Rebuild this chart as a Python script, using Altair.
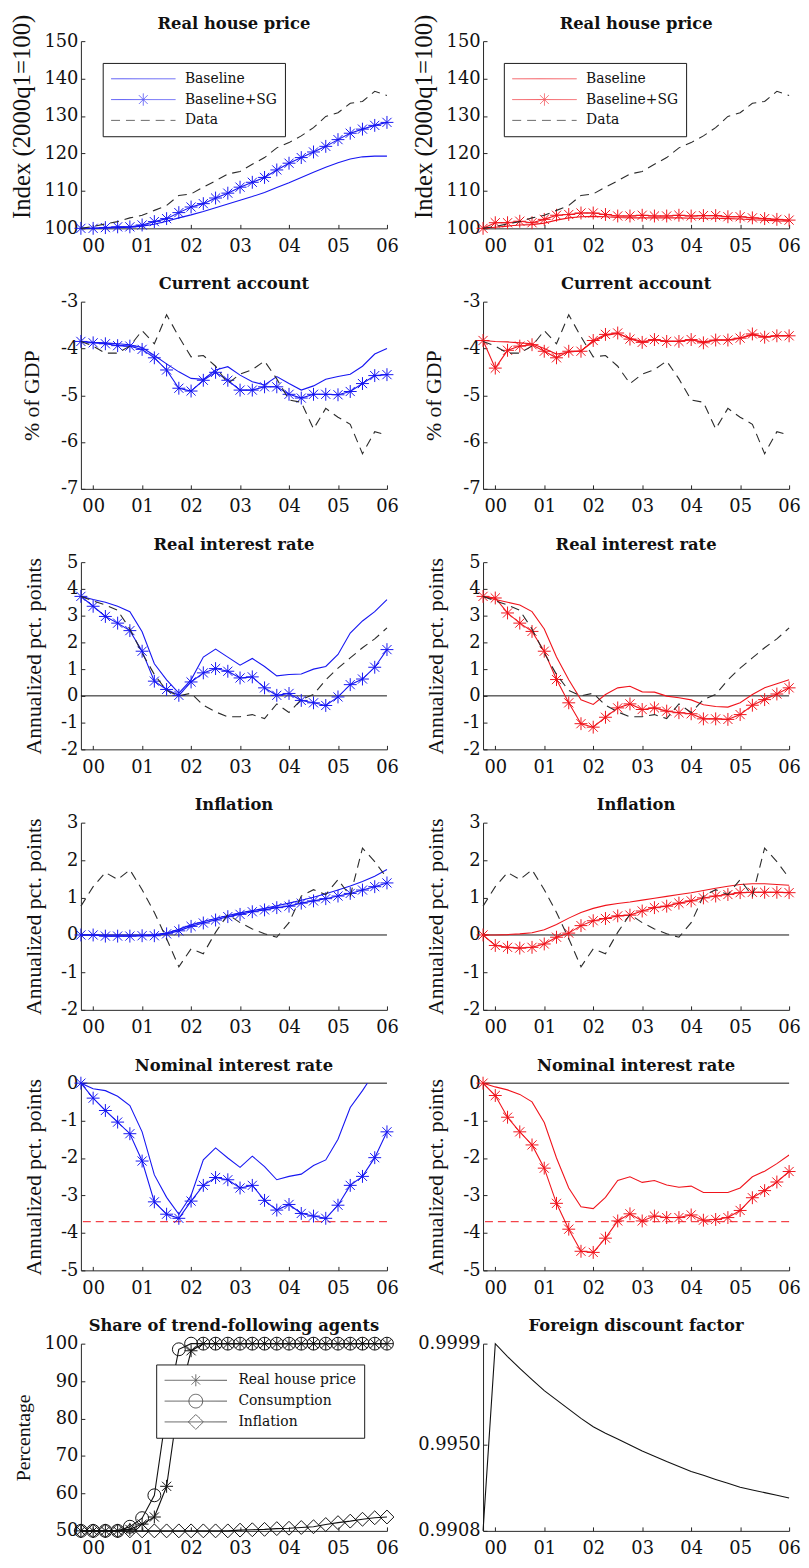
import altair as alt
import pandas as pd

# ---------------- data ----------------
quarter = list(range(26))                       # 1999q4 ... 2006q1
year_ticks = [1, 5, 9, 13, 17, 21, 25]
year_labels = ["00", "01", "02", "03", "04", "05", "06"]

# Real house price
house_base_l = [100, 100, 100.1, 100.2, 100.3, 100.6, 101.1, 101.9, 102.8, 103.6, 104.5, 105.5, 106.5,
                107.5, 108.5, 109.6, 110.9, 112.2, 113.6, 115.0, 116.3, 117.5, 118.5, 119.1, 119.3, 119.3]
house_sg_l = [100, 100, 100.2, 100.4, 100.4, 100.9, 101.8, 102.6, 104.2, 105.7, 106.6, 108.1, 109.4,
              111.0, 112.3, 113.6, 115.6, 117.4, 118.9, 120.4, 121.9, 123.7, 125.4, 126.5, 127.5, 128.3]
house_data = [100, 100.5, 101.2, 101.8, 102.8, 103.5, 104.8, 106.1, 108.8, 109.2, 111.0, 112.7, 114.5,
              115.2, 117.1, 118.9, 121.5, 122.9, 124.7, 126.9, 129.9, 130.9, 133.4, 133.9, 136.6, 135.5]
house_base_r = [100, 100.3, 100.6, 100.9, 101.0, 101.4, 102.2, 102.8, 103.1, 103.2, 103.1, 102.9, 102.8,
                102.8, 102.8, 102.8, 102.8, 102.7, 102.7, 102.7, 102.6, 102.5, 102.3, 102.2, 102.0, 101.9]
house_sg_r = [100, 101.5, 101.5, 101.9, 101.5, 102.4, 103.5, 103.7, 104.1, 104.1, 103.7, 103.3, 103.3,
              103.5, 103.3, 103.3, 103.5, 103.3, 103.4, 103.4, 103.1, 103.1, 102.8, 102.6, 102.4, 102.2]

# Current account
ca_base_l = [-3.85, -3.87, -3.88, -3.9, -3.92, -3.98, -4.15, -4.33, -4.5, -4.64, -4.66, -4.46, -4.39,
             -4.57, -4.71, -4.78, -4.6, -4.75, -4.89, -4.8, -4.66, -4.6, -4.55, -4.38, -4.12, -4.0]
ca_sg_l = [-3.85, -3.88, -3.9, -3.94, -3.95, -4.02, -4.2, -4.46, -4.85, -4.91, -4.68, -4.51, -4.68,
           -4.89, -4.89, -4.82, -4.82, -4.98, -5.06, -4.98, -4.98, -4.99, -4.92, -4.75, -4.58, -4.56]
ca_data = [-3.85, -3.95, -4.1, -4.1, -3.95, -3.62, -3.9, -3.28, -3.75, -4.18, -4.15, -4.38, -4.75,
           -4.55, -4.45, -4.27, -4.65, -5.1, -5.15, -5.72, -5.28, -5.47, -5.62, -6.25, -5.78, -5.85]
ca_base_r = [-3.83, -3.85, -3.86, -3.88, -3.9, -4.0, -4.12, -4.08, -4.05, -3.86, -3.72, -3.68, -3.78,
             -3.85, -3.82, -3.84, -3.84, -3.82, -3.86, -3.82, -3.82, -3.78, -3.71, -3.75, -3.73, -3.73]
ca_sg_r = [-3.83, -4.42, -4.04, -3.95, -3.92, -4.06, -4.2, -4.06, -4.06, -3.83, -3.7, -3.67, -3.8,
           -3.87, -3.81, -3.85, -3.85, -3.81, -3.88, -3.82, -3.82, -3.78, -3.69, -3.76, -3.73, -3.73]

# Real interest rate
rr_base_l = [3.72, 3.6, 3.5, 3.35, 3.15, 2.4, 1.2, 0.6, 0.1, 0.6, 1.45, 1.75, 1.45,
             1.15, 1.4, 1.1, 0.75, 0.8, 0.82, 1.0, 1.1, 1.55, 2.35, 2.8, 3.15, 3.6]
rr_sg_l = [3.72, 3.35, 2.97, 2.72, 2.44, 1.67, 0.55, 0.24, 0.02, 0.52, 0.86, 1.02, 0.92,
           0.67, 0.71, 0.3, 0.02, 0.09, -0.17, -0.26, -0.36, -0.04, 0.42, 0.63, 1.07, 1.73]
rr_data = [3.72, 3.55, 3.4, 3.2, 2.5, 1.6, 0.8, 0.2, 0.0, 0.1, -0.35, -0.6, -0.78,
           -0.78, -0.7, -0.85, -0.3, -0.62, -0.14, 0.05, 0.6, 1.04, 1.42, 1.8, 2.13, 2.54]
rr_base_r = [3.72, 3.6, 3.5, 3.4, 3.15, 2.5, 1.45, 0.6, -0.15, -0.32, 0.05, 0.3, 0.36,
             0.15, 0.14, -0.01, -0.07, -0.15, -0.33, -0.4, -0.42, -0.26, 0.05, 0.3, 0.45, 0.6]
rr_sg_r = [3.72, 3.66, 3.1, 2.72, 2.41, 1.67, 0.61, -0.26, -1.04, -1.17, -0.8, -0.45, -0.3,
           -0.51, -0.45, -0.57, -0.63, -0.67, -0.86, -0.86, -0.88, -0.7, -0.35, -0.14, 0.07, 0.3]

# Inflation
infl_base_l = [0, 0, 0, 0, 0, 0, 0.01, 0.05, 0.15, 0.27, 0.36, 0.44, 0.52,
               0.59, 0.65, 0.71, 0.78, 0.85, 0.93, 1.01, 1.1, 1.2, 1.31, 1.43, 1.57, 1.75]
infl_sg_l = [0, 0, -0.03, -0.03, -0.03, -0.02, -0.02, 0.03, 0.11, 0.23, 0.32, 0.4, 0.49,
             0.55, 0.62, 0.67, 0.73, 0.77, 0.85, 0.91, 0.97, 1.04, 1.11, 1.2, 1.29, 1.39]
infl_data = [0.77, 1.29, 1.67, 1.48, 1.74, 1.21, 0.6, -0.1, -0.85, -0.37, -0.5, 0.07, 0.55,
             0.33, 0.16, 0.03, -0.06, 0.33, 1.04, 1.21, 1.08, 1.48, 1.04, 2.32, 1.96, 1.52]
infl_base_r = [0, 0, 0.01, 0.03, 0.06, 0.14, 0.28, 0.45, 0.6, 0.71, 0.79, 0.84, 0.88,
               0.93, 0.98, 1.03, 1.08, 1.13, 1.19, 1.25, 1.3, 1.35, 1.37, 1.37, 1.35, 1.33]
infl_sg_r = [0, -0.28, -0.33, -0.35, -0.33, -0.24, -0.06, 0.05, 0.25, 0.38, 0.44, 0.51, 0.53,
             0.64, 0.73, 0.77, 0.85, 0.91, 0.99, 1.04, 1.08, 1.13, 1.14, 1.14, 1.14, 1.13]

# Nominal interest rate
nom_base_l = [0, -0.15, -0.2, -0.35, -0.6, -1.3, -2.45, -3.05, -3.5, -3.0, -2.05, -1.73, -2.0,
              -2.25, -1.95, -2.23, -2.58, -2.49, -2.43, -2.2, -2.05, -1.5, -0.65, -0.2, 0.3, 0.8]
nom_sg_l = [0, -0.4, -0.73, -1.04, -1.35, -2.08, -3.17, -3.5, -3.61, -3.15, -2.73, -2.52, -2.58,
            -2.8, -2.73, -3.13, -3.39, -3.24, -3.48, -3.55, -3.61, -3.26, -2.73, -2.49, -1.99, -1.3]
nom_base_r = [0, -0.1, -0.18, -0.3, -0.5, -1.05, -2.0, -2.8, -3.3, -3.35, -3.05, -2.6, -2.5,
              -2.65, -2.6, -2.72, -2.78, -2.75, -2.92, -2.92, -2.92, -2.8, -2.5, -2.35, -2.15, -1.92]
nom_sg_r = [0, -0.33, -0.91, -1.3, -1.65, -2.27, -3.21, -3.9, -4.49, -4.52, -4.14, -3.68, -3.49,
            -3.68, -3.55, -3.59, -3.59, -3.52, -3.66, -3.64, -3.59, -3.4, -3.06, -2.87, -2.64, -2.36]
zero_level = [0]
zlb_level = [-3.7]

# Share of trend-following agents
share_house = [50, 50, 50, 50, 50.4, 51.8, 53.7, 61.9, 85, 98.1, 100, 100, 100,
               100, 100, 100, 100, 100, 100, 100, 100, 100, 100, 100, 100, 100]
share_cons = [50, 50, 50, 50, 51.1, 53.4, 59.5, 82, 98.5, 100, 100, 100, 100,
              100, 100, 100, 100, 100, 100, 100, 100, 100, 100, 100, 100, 100]
share_infl = [50, 50, 50, 50, 50, 50, 50, 50, 50, 50, 50, 50, 50,
              50.2, 50.3, 50.4, 50.6, 50.7, 50.9, 51.1, 51.7, 52.2, 52.6, 53.1, 53.5, 53.7]

# Foreign discount factor
discount = [0.9908, 0.9999, 0.99927, 0.9987, 0.99815, 0.99762, 0.99717, 0.99672, 0.99627,
            0.99586, 0.99555, 0.99526, 0.99497, 0.99468, 0.99443, 0.99417, 0.99393, 0.99369,
            0.9935, 0.9933, 0.99311, 0.99292, 0.99279, 0.99266, 0.99253, 0.9924]

house_ticks = [100, 110, 120, 130, 140, 150]
ca_ticks = [-7, -6, -5, -4, -3]
rr_ticks = [-2, -1, 0, 1, 2, 3, 4, 5]
infl_ticks = [-2, -1, 0, 1, 2, 3]
nom_ticks = [-5, -4, -3, -2, -1, 0]
share_ticks = [50, 60, 70, 80, 90, 100]
disc_ticks = [0.9908, 0.9950, 0.9999]

# ---------------- style ----------------
FONT = "DejaVu Serif"
TFONT = "Liberation Serif"
BLUE = "#1616f2"
RED = "#f0141c"
DATA_C = "#2a2a2a"
INK = "#111111"
AXIS_C = "#262626"

STAR = "M-1,0H1M0,-1V1M-0.71,-0.71L0.71,0.71M-0.71,0.71L0.71,-0.71"
LEG_LINE = "M-1,0H1"
LEG_STAR = "M-1,0H1M0,-0.19V0.19M-0.135,-0.135L0.135,0.135M-0.135,0.135L0.135,-0.135"
LEG_CIRC = "M-1,0H1M0.22,0A0.22,0.22 0 1,1 -0.22,0A0.22,0.22 0 1,1 0.22,0"
LEG_DIAM = "M-1,0H1M0,-0.24L0.24,0L0,0.24L-0.24,0Z"
SOLID = [1, 0]
DASH = [9, 6]

W, H = 309, 189

x_expr = " : ".join(f"datum.value == {v} ? '{s}'" for v, s in zip(year_ticks, year_labels)) + " : ''"


def x_enc():
    return alt.X("t:Q", scale=alt.Scale(domain=[0, 25], nice=False, zero=False),
                 axis=alt.Axis(values=year_ticks, labelExpr=x_expr, title=None, grid=False,
                               labelFlush=False, labelOverlap=False, labelPadding=13,
                               tickSize={"expr": "-4"}))


def y_enc(dom, vals, ytitle, lab_expr):
    kw = dict(values=vals, labelExpr=lab_expr, grid=False, labelFlush=False, labelOverlap=False,
              labelPadding=7, tickSize={"expr": "-4"})
    if ytitle:
        kw.update(title=ytitle["text"], titleFontSize=ytitle["size"], titlePadding=ytitle["pad"])
        if "y" in ytitle:
            kw["titleY"] = ytitle["y"]
    else:
        kw["title"] = None
    return alt.Y("v:Q", scale=alt.Scale(domain=dom, nice=False, zero=False), axis=alt.Axis(**kw))


def series(name, values, color, dash=None, marker=None, msize=169, legpath=LEG_LINE):
    return dict(name=name, values=values, color=color, dash=dash, marker=marker,
                msize=msize, legpath=legpath)


def panel(title, sers, dom, vals, ytitle, lab_expr="'' + datum.value", legend_xy=None,
          refs=(), clip=False, toff=0):
    X = x_enc()
    Y = y_enc(dom, vals, ytitle, lab_expr)
    layers = []
    for lvl, col, dsh in refs:
        rdf = pd.DataFrame({"v": lvl})
        kw = dict(color=col, strokeWidth=1)
        if dsh:
            kw["strokeDash"] = dsh
        layers.append(alt.Chart(rdf).mark_rule(**kw).encode(y=Y))
    for s in sers:
        df = pd.DataFrame({"t": quarter, "v": s["values"]})
        kw = dict(color=s["color"], strokeWidth=1.1, clip=clip)
        if s["dash"]:
            kw["strokeDash"] = s["dash"]
        layers.append(alt.Chart(df).mark_line(**kw).encode(x=X, y=Y))
        if s["marker"]:
            layers.append(alt.Chart(df).mark_point(shape=s["marker"], size=s["msize"], filled=False,
                                                   color=s["color"], strokeWidth=1, opacity=1)
                          .encode(x=X, y=Y))
    if legend_xy:
        names = [s["name"] for s in sers]
        rows = []
        for s in sers:
            for q, v in zip(quarter, s["values"]):
                rows.append({"t": q, "v": v, "series": s["name"]})
        ldf = pd.DataFrame(rows)
        leg = alt.Legend(orient="none", legendX=legend_xy[0], legendY=legend_xy[1],
                         direction="vertical", fillColor="white", strokeColor="#1a1a1a",
                         padding=8, labelFont=FONT, labelFontSize=14, labelColor=INK,
                         symbolSize=legend_xy[2] ** 2, symbolStrokeWidth=1, clipHeight=16,
                         rowPadding=5, labelOffset=legend_xy[3], title=None, zindex=1)
        layers.append(
            alt.Chart(ldf).transform_filter("false").mark_point(filled=False, strokeWidth=1)
            .encode(
                x=X, y=Y,
                color=alt.Color("series:N", scale=alt.Scale(domain=names, range=[s["color"] for s in sers]),
                                legend=leg),
                shape=alt.Shape("series:N", scale=alt.Scale(domain=names, range=[s["legpath"] for s in sers]),
                                legend=leg),
                strokeDash=alt.StrokeDash("series:N",
                                          scale=alt.Scale(domain=names,
                                                          range=[s["dash"] or SOLID for s in sers]),
                                          legend=leg),
            ))
    return alt.layer(*layers).properties(
        width=W, height=H,
        title=alt.TitleParams(title, font=FONT, fontSize=16.5, fontWeight="bold", color=INK,
                              anchor="middle", offset=toff, frame="group"))


def three(base, sg, data, color):
    return [series("Baseline", base, color),
            series("Baseline+SG", sg, color, marker=STAR, legpath=LEG_STAR),
            series("Data", data, DATA_C, dash=DASH)]


T_INDEX = dict(text="Index (2000q1=100)", size=25, pad=10, y=76)
T_GDP = dict(text="% of GDP", size=22, pad=17)
T_ANN = dict(text="Annualized pct. points", size=22, pad=15)
T_PCT = dict(text="Percentage", size=20, pad=11)

panels = [
    panel("Real house price", three(house_base_l, house_sg_l, house_data, BLUE), [100, 150], house_ticks,
          T_INDEX, legend_xy=(22, 22, 65, 9), toff=-18),
    panel("Real house price", three(house_base_r, house_sg_r, house_data, RED), [100, 150], house_ticks,
          T_INDEX, legend_xy=(21, 22, 65, 9), toff=-18),
    panel("Current account", three(ca_base_l, ca_sg_l, ca_data, BLUE), [-7, -3], ca_ticks, T_GDP),
    panel("Current account", three(ca_base_r, ca_sg_r, ca_data, RED), [-7, -3], ca_ticks, T_GDP),
    panel("Real interest rate", three(rr_base_l, rr_sg_l, rr_data, BLUE), [-2, 5], rr_ticks,
          T_ANN, refs=[(zero_level, INK, None)]),
    panel("Real interest rate", three(rr_base_r, rr_sg_r, rr_data, RED), [-2, 5], rr_ticks,
          T_ANN, refs=[(zero_level, INK, None)]),
    panel("Inflation", three(infl_base_l, infl_sg_l, infl_data, BLUE), [-2, 3], infl_ticks,
          T_ANN, refs=[(zero_level, INK, None)]),
    panel("Inflation", three(infl_base_r, infl_sg_r, infl_data, RED), [-2, 3], infl_ticks,
          T_ANN, refs=[(zero_level, INK, None)]),
    panel("Nominal interest rate",
          [series("Baseline", nom_base_l, BLUE),
           series("Baseline+SG", nom_sg_l, BLUE, marker=STAR)],
          [-5, 0], nom_ticks, T_ANN,
          refs=[(zero_level, INK, None), (zlb_level, RED, [8, 5])], clip=True),
    panel("Nominal interest rate",
          [series("Baseline", nom_base_r, RED),
           series("Baseline+SG", nom_sg_r, RED, marker=STAR)],
          [-5, 0], nom_ticks, T_ANN,
          refs=[(zero_level, INK, None), (zlb_level, RED, [8, 5])], clip=True),
    panel("Share of trend-following agents",
          [series("Real house price", share_house, INK, marker=STAR, legpath=LEG_STAR),
           series("Consumption", share_cons, INK, marker="circle", msize=169, legpath=LEG_CIRC),
           series("Inflation", share_infl, INK, marker="diamond", msize=196, legpath=LEG_DIAM)],
          [50, 100], share_ticks, T_PCT, legend_xy=(76, 21, 63, 11)),
    panel("Foreign discount factor", [series("Discount", discount, INK)],
          [0.9908, 0.9999], disc_ticks, None, lab_expr="format(datum.value, '.4f')"),
]

chart = (
    alt.concat(*panels, columns=2, spacing={"row": 74, "column": 97}, bounds="flush")
    .resolve_scale(x="independent", y="independent", color="independent",
                   shape="independent", strokeDash="independent")
    .properties(padding={"left": 0.6, "top": -2, "right": 0, "bottom": 0})
    .configure(font=FONT)
    .configure_view(stroke=None)
    .configure_axis(domainColor=AXIS_C, tickColor=AXIS_C, domainWidth=1, tickWidth=1,
                    labelFont=FONT, labelFontSize=18, labelColor=INK,
                    titleFont=TFONT, titleFontWeight="normal", titleColor=INK)
)

chart.save("out.html", embed_options={"renderer": "svg", "actions": False})
